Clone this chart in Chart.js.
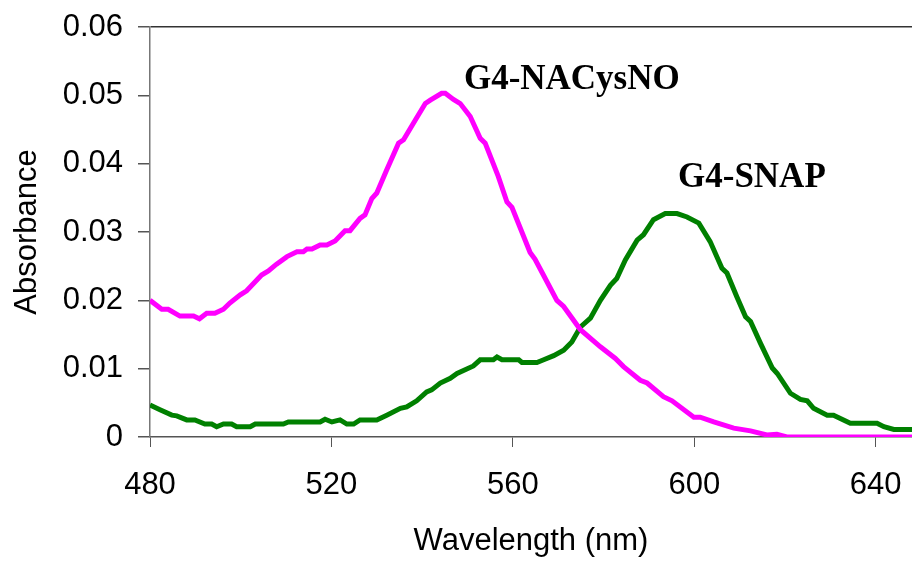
<!DOCTYPE html>
<html>
<head>
<meta charset="utf-8">
<script src="https://cdn.jsdelivr.net/npm/chart.js@4.4.1/dist/chart.umd.min.js"></script>
<style>
  body { margin: 0; background: #fff; }
  canvas { display: block; }
</style>
</head>
<body>
<canvas id="spectra" width="912" height="562"></canvas>
<script>
'use strict';

// G4-NACysNO (magenta) spectrum
var nacysWl = [480, 482.6, 484, 486.6, 489.6, 490.9, 492.5, 494.3, 496.2, 497.6, 499.9, 501.3,
    504.6, 506.1, 507.9, 510.2, 512.4, 513.8, 514.6, 515.7, 517.5, 519, 520.8, 523, 524.1,
    526.3, 527.4, 528.9, 530, 532.2, 534.8, 535.9, 538.5, 540.7, 541.8, 544.3, 545.1, 546.9,
    548.4, 550.6, 552.8, 553.9, 556.8, 558.7, 559.8, 563.8, 564.9, 566.5, 569.7, 571.2, 574.9,
    579.3, 582.6, 584.4, 588.1, 589.6, 593.2, 595.1, 599.9, 601.3, 604.3, 608.7, 612.4, 616,
    618.2, 620.4, 648];
var nacysAbs = [0.0200, 0.0187, 0.0187, 0.0177, 0.0177, 0.0173, 0.0181, 0.0181, 0.0187, 0.0196,
    0.0208, 0.0214, 0.0237, 0.0243, 0.0253, 0.0264, 0.0271, 0.0271, 0.0275, 0.0275, 0.0281,
    0.0281, 0.0287, 0.0302, 0.0302, 0.0320, 0.0325, 0.0349, 0.0357, 0.0391, 0.0430, 0.0435,
    0.0464, 0.0488, 0.0493, 0.0503, 0.0503, 0.0494, 0.0488, 0.0469, 0.0437, 0.0430, 0.0381,
    0.0344, 0.0336, 0.0270, 0.0260, 0.0240, 0.0200, 0.0191, 0.0157, 0.0132, 0.0115, 0.0103,
    0.0083, 0.0079, 0.0059, 0.0053, 0.0029, 0.0029, 0.0022, 0.0013, 0.0009, 0.0003, 0.0004,
    0.0000, 0.0000];

// G4-SNAP (green) spectrum
var snapWl = [480, 482.2, 484.8, 485.9, 488.1, 489.9, 492.1, 493.6, 494.7, 496.2, 498, 499.1,
    502.1, 503.2, 509.4, 510.5, 517.5, 518.6, 520.1, 521.9, 523.4, 524.9, 526.3, 530, 532.2,
    535.2, 536.6, 538.8, 541, 542.1, 544, 546.2, 547.7, 551.3, 552.8, 555.7, 556.5, 557.6,
    561.3, 562, 565.3, 566.8, 569, 571.2, 573, 574.9, 577.1, 579.3, 581.5, 582.9, 584.8,
    587.4, 588.8, 591, 593.6, 596.2, 598.4, 601, 603.5, 606.1, 607.2, 609.4, 611.3, 612.4,
    614.6, 617.2, 618.3, 621.2, 623.4, 624.9, 626.3, 629.3, 630.7, 634.4, 640.3, 641.8, 644, 648];
var snapAbs = [0.0047, 0.0040, 0.0032, 0.0031, 0.0025, 0.0025, 0.0019, 0.0019, 0.0015, 0.0019,
    0.0019, 0.0015, 0.0015, 0.0019, 0.0019, 0.0022, 0.0022, 0.0026, 0.0022, 0.0025, 0.0019,
    0.0019, 0.0025, 0.0025, 0.0032, 0.0042, 0.0044, 0.0053, 0.0066, 0.0069, 0.0079, 0.0086,
    0.0093, 0.0104, 0.0113, 0.0113, 0.0117, 0.0113, 0.0113, 0.0109, 0.0109, 0.0113, 0.0119,
    0.0127, 0.0139, 0.0161, 0.0174, 0.0200, 0.0222, 0.0232, 0.0259, 0.0288, 0.0296, 0.0318,
    0.0327, 0.0327, 0.0322, 0.0313, 0.0286, 0.0247, 0.0240, 0.0205, 0.0176, 0.0169, 0.0137,
    0.0101, 0.0093, 0.0064, 0.0055, 0.0053, 0.0042, 0.0032, 0.0032, 0.0020, 0.0020, 0.0015,
    0.0011, 0.0011];

var seriesNames = ['G4-NACysNO', 'G4-SNAP'];
// where each series name sits (wavelength, absorbance of the text baseline)
var labelWl = [573, 612.7];
var labelAbs = [0.0509, 0.0366];

var toPoints = function(xs, ys) {
    return xs.map(function(x, i) {
        return { x: x, y: ys[i] };
    });
};

var seriesLabels = {
    id: 'seriesLabels',
    afterDatasetsDraw: function(chart) {
        var ctx = chart.ctx;
        var sx = chart.scales.x, sy = chart.scales.y;
        ctx.save();
        ctx.font = 'bold 35px "Liberation Serif", "Times New Roman", serif';
        ctx.fillStyle = '#000';
        ctx.textAlign = 'center';
        ctx.textBaseline = 'alphabetic';
        seriesNames.forEach(function(name, i) {
            ctx.fillText(name, sx.getPixelForValue(labelWl[i]), sy.getPixelForValue(labelAbs[i]));
        });
        ctx.restore();
    }
};

var axisFont = { family: '"Liberation Sans", Arial, sans-serif', size: 31 };

var ctx = document.getElementById('spectra').getContext('2d');
var spectraChart = new Chart(ctx, {
    type: 'line',
    data: {
        datasets: [{
            label: seriesNames[0],
            data: toPoints(nacysWl, nacysAbs),
            borderColor: '#ff00ff',
            borderWidth: 5,
            pointRadius: 0,
            tension: 0,
            fill: false
        }, {
            label: seriesNames[1],
            data: toPoints(snapWl, snapAbs),
            borderColor: '#008000',
            borderWidth: 5,
            pointRadius: 0,
            tension: 0,
            fill: false
        }]
    },
    options: {
        responsive: false,
        animation: false,
        layout: { padding: { top: 27, right: 0, bottom: 0, left: 0 } },
        plugins: {
            legend: { display: false },
            tooltip: { enabled: false }
        },
        scales: {
            x: {
                type: 'linear',
                min: 480,
                max: 648,
                afterFit: function(scale) {
                    scale.height = 125;
                    scale.paddingLeft = 0;
                    scale.paddingRight = 0;
                },
                border: { color: '#555', width: 1.5 },
                grid: { drawOnChartArea: false, drawTicks: true, tickLength: 10, tickColor: '#555' },
                ticks: {
                    stepSize: 40,
                    includeBounds: false,
                    maxRotation: 0,
                    padding: 20,
                    color: '#000',
                    font: axisFont
                },
                title: {
                    display: true,
                    text: 'Wavelength (nm)',
                    color: '#000',
                    font: axisFont,
                    padding: { top: 0, bottom: 2 }
                }
            },
            y: {
                min: 0,
                max: 0.06,
                afterFit: function(scale) {
                    scale.width = 150;
                    scale.paddingTop = 0;
                    scale.paddingBottom = 0;
                },
                border: { color: '#777', width: 1.5 },
                grid: {
                    drawTicks: true,
                    tickLength: 12,
                    tickColor: '#555',
                    color: function(c) {
                        return c.tick && Math.abs(c.tick.value - 0.06) < 1e-9 ? '#333' : 'rgba(0,0,0,0)';
                    },
                    lineWidth: 1.5
                },
                ticks: {
                    stepSize: 0.01,
                    padding: 15,
                    color: '#000',
                    font: axisFont,
                    callback: function(v) {
                        var r = Math.round(v * 100) / 100;
                        return r === 0 ? '0' : r.toFixed(2);
                    }
                },
                title: {
                    display: true,
                    text: 'Absorbance',
                    color: '#000',
                    font: axisFont,
                    padding: { top: 9, bottom: 0 }
                }
            }
        }
    },
    plugins: [seriesLabels]
});
</script>
</body>
</html>
